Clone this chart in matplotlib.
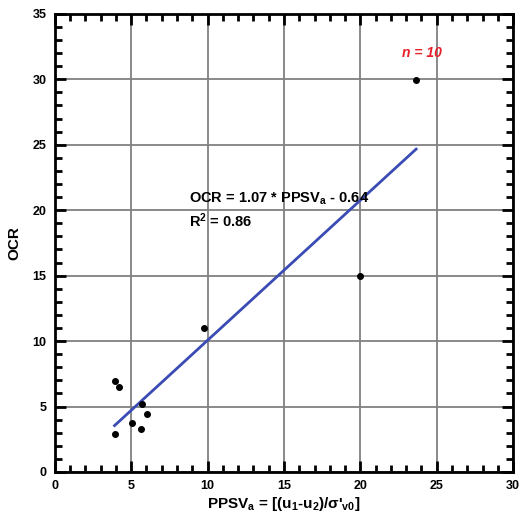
import matplotlib.pyplot as plt
from matplotlib.ticker import MultipleLocator
import numpy as np

# data
ppsv = [3.97, 4.23, 5.73, 6.06, 5.08, 5.67, 3.91, 9.77, 20.0, 23.65]
ocr = [6.95, 6.49, 5.19, 4.43, 3.74, 3.28, 2.90, 11.0, 14.97, 29.95]
slope = 1.07
intercept = -0.64

plt.rcParams['font.family'] = ['Liberation Sans', 'DejaVu Sans']
plt.rcParams['mathtext.fontset'] = 'custom'
plt.rcParams['mathtext.rm'] = 'Liberation Sans:bold'
plt.rcParams['mathtext.it'] = 'Liberation Sans:bold'
plt.rcParams['mathtext.bf'] = 'Liberation Sans:bold'


def main():
    fig = plt.figure(figsize=(5.22, 5.13), dpi=100)
    ax = fig.add_axes([0.105, 0.080, 0.878, 0.893])

    ax.set_xlim(0, 30)
    ax.set_ylim(0, 35)
    ax.grid(True, which='major', color='#808080', lw=1.3)
    ax.set_axisbelow(True)

    xs = np.array([min(ppsv), max(ppsv)])
    ax.plot(xs, slope * xs + intercept, color='#3a4cb4', lw=2.0, zorder=3)
    ax.scatter(ppsv, ocr, s=16, color='black', zorder=4)

    ax.xaxis.set_major_locator(MultipleLocator(5))
    ax.xaxis.set_minor_locator(MultipleLocator(1))
    ax.yaxis.set_major_locator(MultipleLocator(5))
    ax.yaxis.set_minor_locator(MultipleLocator(1))
    ax.tick_params(which='both', direction='in', top=True, right=True, width=2)
    ax.tick_params(which='major', length=8, labelsize=9, pad=6)
    ax.tick_params(which='minor', length=5)
    for lab in ax.get_xticklabels() + ax.get_yticklabels():
        lab.set_fontweight('bold')
    for sp in ax.spines.values():
        sp.set_linewidth(2)

    ax.set_xlabel("PPSV$_\\mathrm{a}$ = [(u$_\\mathrm{1}$-u$_\\mathrm{2}$)/σ'$_\\mathrm{v0}$]",
                  fontsize=11, fontweight='bold', labelpad=2)
    ax.set_ylabel("OCR", fontsize=11, fontweight='bold', labelpad=8)

    ax.text(8.8, 20.85, "OCR = 1.07 * PPSV$_\\mathrm{a}$ - 0.64", fontsize=10.5,
            fontweight='bold', va='center', ha='left')
    ax.text(8.8, 19.2, "R$^\\mathrm{2}$ = 0.86", fontsize=10.5, fontweight='bold',
            va='center', ha='left')
    ax.text(24.0, 32.0, "n = 10", fontsize=10, fontweight='bold',
            fontstyle='italic', color='#e8202a', ha='center', va='center')

    fig.savefig("out.png", dpi=100)


if __name__ == "__main__":
    main()
